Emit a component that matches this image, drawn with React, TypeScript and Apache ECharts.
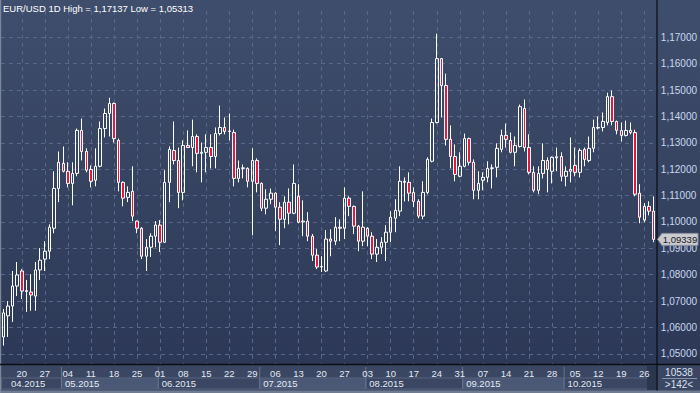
import React, { useEffect, useRef } from "react";
import * as echarts from "echarts";

const dates = [
  "2015-04-14", "2015-04-15", "2015-04-16", "2015-04-17",
  "2015-04-20", "2015-04-21", "2015-04-22", "2015-04-23", "2015-04-24",
  "2015-04-27", "2015-04-28", "2015-04-29", "2015-04-30", "2015-05-01",
  "2015-05-04", "2015-05-05", "2015-05-06", "2015-05-07", "2015-05-08",
  "2015-05-11", "2015-05-12", "2015-05-13", "2015-05-14", "2015-05-15",
  "2015-05-18", "2015-05-19", "2015-05-20", "2015-05-21", "2015-05-22",
  "2015-05-25", "2015-05-26", "2015-05-27", "2015-05-28", "2015-05-29",
  "2015-06-01", "2015-06-02", "2015-06-03", "2015-06-04", "2015-06-05",
  "2015-06-08", "2015-06-09", "2015-06-10", "2015-06-11", "2015-06-12",
  "2015-06-15", "2015-06-16", "2015-06-17", "2015-06-18", "2015-06-19",
  "2015-06-22", "2015-06-23", "2015-06-24", "2015-06-25", "2015-06-26",
  "2015-06-29", "2015-06-30", "2015-07-01", "2015-07-02", "2015-07-03",
  "2015-07-06", "2015-07-07", "2015-07-08", "2015-07-09", "2015-07-10",
  "2015-07-13", "2015-07-14", "2015-07-15", "2015-07-16", "2015-07-17",
  "2015-07-20", "2015-07-21", "2015-07-22", "2015-07-23", "2015-07-24",
  "2015-07-27", "2015-07-28", "2015-07-29", "2015-07-30", "2015-07-31",
  "2015-08-03", "2015-08-04", "2015-08-05", "2015-08-06", "2015-08-07",
  "2015-08-10", "2015-08-11", "2015-08-12", "2015-08-13", "2015-08-14",
  "2015-08-17", "2015-08-18", "2015-08-19", "2015-08-20", "2015-08-21",
  "2015-08-24", "2015-08-25", "2015-08-26", "2015-08-27", "2015-08-28",
  "2015-08-31", "2015-09-01", "2015-09-02", "2015-09-03", "2015-09-04",
  "2015-09-07", "2015-09-08", "2015-09-09", "2015-09-10", "2015-09-11",
  "2015-09-14", "2015-09-15", "2015-09-16", "2015-09-17", "2015-09-18",
  "2015-09-21", "2015-09-22", "2015-09-23", "2015-09-24", "2015-09-25",
  "2015-09-28", "2015-09-29", "2015-09-30", "2015-10-01", "2015-10-02",
  "2015-10-05", "2015-10-06", "2015-10-07", "2015-10-08", "2015-10-09",
  "2015-10-12", "2015-10-13", "2015-10-14", "2015-10-15", "2015-10-16",
  "2015-10-19", "2015-10-20", "2015-10-21", "2015-10-22", "2015-10-23",
  "2015-10-26", "2015-10-27", "2015-10-28",
];

const opens = [
  1.0564, 1.0644, 1.0681, 1.0757, 1.0814, 1.0740, 1.0734, 1.0719, 1.0818, 1.0859,
  1.0889, 1.0976, 1.1127, 1.1222, 1.1192, 1.1146, 1.1184, 1.1347, 1.1267, 1.1199,
  1.1158, 1.1211, 1.1354, 1.1411, 1.1449, 1.1309, 1.1150, 1.1093, 1.1116, 1.1003,
  1.0976, 1.0870, 1.0904, 1.0946, 1.0988, 1.0923, 1.1150, 1.1271, 1.1233, 1.1112,
  1.1290, 1.1282, 1.1324, 1.1260, 1.1264, 1.1282, 1.1248, 1.1335, 1.1358, 1.1343,
  1.1339, 1.1165, 1.1203, 1.1203, 1.1154, 1.1233, 1.1146, 1.1052, 1.1086, 1.1109,
  1.1056, 1.1010, 1.1075, 1.1033, 1.1097, 1.1000, 1.1003, 1.0946, 1.0874, 1.0829,
  1.0814, 1.0935, 1.0927, 1.0980, 1.0976, 1.1090, 1.1059, 1.0984, 1.0927, 1.0976,
  1.0946, 1.0878, 1.0904, 1.0923, 1.0961, 1.1014, 1.1041, 1.1154, 1.1150, 1.1112,
  1.1078, 1.1022, 1.1112, 1.1230, 1.1377, 1.1619, 1.1517, 1.1313, 1.1248, 1.1173,
  1.1211, 1.1316, 1.1226, 1.1120, 1.1158, 1.1169, 1.1203, 1.1207, 1.1275, 1.1328,
  1.1309, 1.1264, 1.1286, 1.1430, 1.1282, 1.1188, 1.1120, 1.1184, 1.1233, 1.1192,
  1.1243, 1.1248, 1.1173, 1.1192, 1.1214, 1.1188, 1.1275, 1.1233, 1.1279, 1.1358,
  1.1358, 1.1377, 1.1475, 1.1381, 1.1347, 1.1328, 1.1347, 1.1339, 1.1109, 1.1007,
  1.1059, 1.1041,
];

const closes = [
  1.0655, 1.0681, 1.0757, 1.0799, 1.0738, 1.0736, 1.0723, 1.0818, 1.0855, 1.0889,
  1.0980, 1.1127, 1.1226, 1.1192, 1.1146, 1.1184, 1.1347, 1.1267, 1.1196, 1.1154,
  1.1211, 1.1354, 1.1411, 1.1449, 1.1316, 1.1150, 1.1090, 1.1112, 1.1022, 1.0976,
  1.0870, 1.0904, 1.0946, 1.0988, 1.0923, 1.1150, 1.1275, 1.1233, 1.1112, 1.1290,
  1.1282, 1.1324, 1.1260, 1.1264, 1.1282, 1.1248, 1.1335, 1.1358, 1.1343, 1.1345,
  1.1165, 1.1203, 1.1205, 1.1154, 1.1233, 1.1146, 1.1052, 1.1086, 1.1109, 1.1056,
  1.1010, 1.1075, 1.1033, 1.1146, 1.0999, 1.1003, 1.0946, 1.0874, 1.0829, 1.0831,
  1.0935, 1.0927, 1.0980, 1.0976, 1.1090, 1.1059, 1.0984, 1.0927, 1.0980, 1.0946,
  1.0878, 1.0904, 1.0923, 1.0961, 1.1018, 1.1044, 1.1154, 1.1150, 1.1109, 1.1078,
  1.1022, 1.1112, 1.1237, 1.1377, 1.1619, 1.1517, 1.1313, 1.1248, 1.1180, 1.1211,
  1.1316, 1.1226, 1.1120, 1.1146, 1.1169, 1.1203, 1.1205, 1.1279, 1.1328, 1.1313,
  1.1264, 1.1290, 1.1437, 1.1282, 1.1188, 1.1120, 1.1184, 1.1233, 1.1199, 1.1245,
  1.1247, 1.1173, 1.1192, 1.1199, 1.1188, 1.1271, 1.1237, 1.1279, 1.1358, 1.1356,
  1.1381, 1.1475, 1.1381, 1.1347, 1.1328, 1.1347, 1.1339, 1.1105, 1.1018, 1.1059,
  1.1041, 1.09339,
];

const lows = [
  1.05313, 1.0564, 1.0621, 1.0719, 1.0708, 1.0659, 1.0663, 1.0663, 1.0780, 1.0814,
  1.0859, 1.0957, 1.1075, 1.1188, 1.1131, 1.1063, 1.1173, 1.1233, 1.1188, 1.1131,
  1.1135, 1.1207, 1.1320, 1.1324, 1.1301, 1.1116, 1.1059, 1.1075, 1.1003, 1.0957,
  1.0859, 1.0814, 1.0867, 1.0904, 1.0886, 1.0920, 1.1075, 1.1218, 1.1052, 1.1082,
  1.1280, 1.1211, 1.1188, 1.1150, 1.1188, 1.1203, 1.1203, 1.1328, 1.1332, 1.1309,
  1.1135, 1.1150, 1.1165, 1.1131, 1.0950, 1.1112, 1.1041, 1.1029, 1.1067, 1.0965,
  1.0912, 1.0976, 1.0991, 1.1029, 1.0995, 1.0946, 1.0927, 1.0852, 1.0821, 1.0810,
  1.0810, 1.0870, 1.0912, 1.0927, 1.0935, 1.1022, 1.0954, 1.0889, 1.0908, 1.0908,
  1.0859, 1.0848, 1.0878, 1.0852, 1.0923, 1.0961, 1.1022, 1.1078, 1.1078, 1.1056,
  1.1014, 1.1010, 1.1105, 1.1226, 1.1373, 1.1396, 1.1290, 1.1203, 1.1154, 1.1169,
  1.1207, 1.1214, 1.1086, 1.1086, 1.1120, 1.1150, 1.1127, 1.1169, 1.1264, 1.1282,
  1.1260, 1.1211, 1.1282, 1.1267, 1.1180, 1.1112, 1.1105, 1.1165, 1.1112, 1.1146,
  1.1192, 1.1154, 1.1135, 1.1150, 1.1173, 1.1169, 1.1211, 1.1226, 1.1264, 1.1350,
  1.1343, 1.1366, 1.1366, 1.1332, 1.1305, 1.1324, 1.1332, 1.1097, 1.0995, 1.0999,
  1.1025, 1.0923,
];

const highs = [
  1.0670, 1.0700, 1.0814, 1.0848, 1.0821, 1.0780, 1.0802, 1.0848, 1.0901, 1.0927,
  1.0991, 1.1192, 1.1267, 1.1286, 1.1226, 1.1226, 1.1354, 1.1392, 1.1279, 1.1214,
  1.1279, 1.1381, 1.1430, 1.1471, 1.1453, 1.1316, 1.1154, 1.1135, 1.1211, 1.1005,
  1.0980, 1.0935, 1.0957, 1.1003, 1.1007, 1.1196, 1.1286, 1.1381, 1.1282, 1.1309,
  1.1347, 1.1388, 1.1332, 1.1301, 1.1332, 1.1332, 1.1358, 1.1441, 1.1396, 1.1411,
  1.1350, 1.1233, 1.1218, 1.1207, 1.1279, 1.1241, 1.1150, 1.1124, 1.1127, 1.1112,
  1.1075, 1.1097, 1.1127, 1.1218, 1.1143, 1.1082, 1.1037, 1.0954, 1.0897, 1.0870,
  1.0969, 1.0972, 1.1018, 1.1010, 1.1131, 1.1097, 1.1062, 1.0988, 1.1116, 1.0980,
  1.0961, 1.0935, 1.0942, 1.0988, 1.1041, 1.1086, 1.1211, 1.1169, 1.1188, 1.1131,
  1.1086, 1.1154, 1.1245, 1.1392, 1.17137, 1.1620, 1.1562, 1.1366, 1.1294, 1.1264,
  1.1335, 1.1320, 1.1237, 1.1192, 1.1188, 1.1230, 1.1218, 1.1298, 1.1350, 1.1373,
  1.1339, 1.1324, 1.1445, 1.1464, 1.1332, 1.1211, 1.1211, 1.1298, 1.1245, 1.1248,
  1.1282, 1.1264, 1.1211, 1.1320, 1.1282, 1.1279, 1.1282, 1.1324, 1.1388, 1.1400,
  1.1415, 1.1490, 1.1498, 1.1384, 1.1377, 1.1384, 1.1377, 1.1350, 1.1143, 1.1071,
  1.1078, 1.1097,
];

const titleText = "EUR/USD 1D High = 1,17137 Low = 1,05313";
const lastPrice = 1.09339;
const totalBars = "10538";
const visibleBars = ">142<";
const priceMin = 1.04;
const priceMax = 1.18;
const priceStep = 0.01;

const FONT = "'Liberation Sans', Arial, sans-serif";
const STRIP_TOP = 364.5;
const PANEL_X = 656.5;

export default function App() {
  const ref = useRef<HTMLDivElement>(null);

  useEffect(() => {
    const chart = echarts.init(ref.current!, null, { renderer: "svg" });
    const data = dates.map((_, i) => [opens[i], closes[i], lows[i], highs[i]]);
    const isMonday = (i: number) =>
      new Date(dates[i] + "T00:00:00Z").getUTCDay() === 1;
    const fmtPrice = (v: number) => v.toFixed(5).replace(".", ",");

    chart.setOption({
      animation: false,
      grid: { left: 1, right: 44, top: 10.9, bottom: 12.8 },
      xAxis: [
        {
          type: "category",
          data: dates,
          boundaryGap: true,
          axisLine: { show: false },
          axisTick: { show: false },
          axisLabel: { show: false },
          splitLine: {
            show: true,
            interval: (i: number) => isMonday(i),
            alignWithLabel: true,
            lineStyle: { color: "#58678c", width: 1, type: [4, 4] },
          },
        },
        {
          type: "category",
          data: dates,
          boundaryGap: true,
          position: "bottom",
          offset: -15.8,
          z: 10,
          axisLine: { show: false },
          axisTick: { show: false },
          splitLine: { show: false },
          axisLabel: {
            interval: (i: number) => isMonday(i),
            formatter: (v: string) => v.slice(8),
            color: "#e2e9f5",
            fontSize: 9.5,
            fontFamily: FONT,
            margin: 4,
          },
        },
      ],
      yAxis: {
        type: "value",
        position: "right",
        min: priceMin,
        max: priceMax,
        interval: priceStep,
        axisLine: { show: false },
        axisTick: { show: false },
        axisLabel: {
          formatter: (v: number) => fmtPrice(v),
          color: "#c9d8f0",
          fontSize: 10,
          fontFamily: FONT,
          margin: 5,
          align: "left",
          showMinLabel: false,
          showMaxLabel: false,
        },
        splitLine: {
          show: true,
          showMinLine: false,
          showMaxLine: false,
          lineStyle: { color: "#58678c", width: 1, type: [4, 4] },
        },
      },
      series: [
        {
          type: "candlestick",
          xAxisIndex: 0,
          data,
          barWidth: 3,
          itemStyle: {
            color: "rgba(0,0,0,0)",
            color0: "#e8163c",
            borderColor: "#ffffff",
            borderColor0: "#ffffff",
            borderWidth: 1,
          },
        },
      ],
    });

    // Derived positions through the chart's own scales
    const cx = (i: number) => chart.convertToPixel({ xAxisIndex: 0 }, dates[i]) as number;
    const bw = cx(1) - cx(0);
    const monthStarts: { idx: number; label: string }[] = [];
    dates.forEach((d, i) => {
      const m = d.slice(0, 7);
      if (i === 0 || m !== dates[i - 1].slice(0, 7)) {
        monthStarts.push({ idx: i, label: d.slice(5, 7) + "." + d.slice(0, 4) });
      }
    });
    const handleX = 647;
    const graphics: any[] = [];
    graphics.push({
      type: "rect",
      z: 5,
      silent: true,
      shape: { x: 0, y: STRIP_TOP, width: 700, height: 393 - STRIP_TOP },
      style: { fill: "#3a4662" },
    });
    monthStarts.forEach((m, k) => {
      const left = Math.max(1, cx(m.idx) - bw / 2);
      const right =
        k + 1 < monthStarts.length ? cx(monthStarts[k + 1].idx) - bw / 2 : handleX;
      const light = k % 2 === 1;
      graphics.push({
        type: "rect",
        z: 6,
        silent: true,
        shape: { x: left + 0.5, y: 378, width: right - left, height: 11 },
        style: { fill: light ? "#4b5875" : "#3a4662", stroke: "#56637e", lineWidth: 1 },
      });
      if (k > 0) {
        graphics.push({
          type: "line",
          z: 7,
          silent: true,
          shape: { x1: left + 0.5, y1: 367, x2: left + 0.5, y2: 389 },
          style: { stroke: "#66738c", lineWidth: 1 },
        });
      }
      graphics.push({
        type: "text",
        z: 8,
        silent: true,
        x: k === 0 ? left + 10 : left + 4,
        y: 383.8,
        style: {
          text: m.label,
          fill: "#e2e9f5",
          font: `9.5px ${FONT}`,
          textVerticalAlign: "middle",
        },
      });
    });
    // scroll handle
    graphics.push({
      type: "rect",
      z: 7,
      silent: true,
      shape: { x: handleX, y: 366, width: PANEL_X - handleX, height: 24 },
      style: { fill: "#2b364f" },
    });
    // bottom + left frame
    graphics.push({
      type: "rect",
      z: 9,
      silent: true,
      shape: { x: 0, y: 390.5, width: 700, height: 2.5 },
      style: { fill: "#6f7b90" },
    });
    graphics.push({
      type: "rect",
      z: 9,
      silent: true,
      shape: { x: 0, y: 0, width: 1.2, height: 393 },
      style: { fill: "#7b8699" },
    });
    // separators
    graphics.push({
      type: "line",
      z: 9,
      silent: true,
      shape: { x1: 0, y1: STRIP_TOP, x2: 700, y2: STRIP_TOP },
      style: { stroke: "#0a0d14", lineWidth: 1.5 },
    });
    graphics.push({
      type: "line",
      z: 9,
      silent: true,
      shape: { x1: PANEL_X + 0.5, y1: 0, x2: PANEL_X + 0.5, y2: 390.5 },
      style: { stroke: "#0a0d14", lineWidth: 1.2 },
    });
    // bottom-right counters
    graphics.push({
      type: "text",
      z: 10,
      silent: true,
      x: 679,
      y: 372,
      style: { text: totalBars, fill: "#d8e1f0", font: `10px ${FONT}`, textAlign: "center", textVerticalAlign: "middle" },
    });
    graphics.push({
      type: "line",
      z: 10,
      silent: true,
      shape: { x1: 662, y1: 378.5, x2: 697, y2: 378.5 },
      style: { stroke: "#8793a8", lineWidth: 1 },
    });
    graphics.push({
      type: "text",
      z: 10,
      silent: true,
      x: 679,
      y: 384.5,
      style: { text: visibleBars, fill: "#d8e1f0", font: `10px ${FONT}`, textAlign: "center", textVerticalAlign: "middle" },
    });
    // last price tag
    const py = chart.convertToPixel({ yAxisIndex: 0 }, lastPrice) as number;
    graphics.push({
      type: "polygon",
      z: 12,
      silent: true,
      shape: {
        points: [
          [657.5, py],
          [662, py - 6],
          [698, py - 6],
          [698, py + 6],
          [662, py + 6],
        ],
      },
      style: { fill: "#c9cbd0", stroke: "#8c919b", lineWidth: 1 },
    });
    graphics.push({
      type: "text",
      z: 13,
      silent: true,
      x: 680,
      y: py,
      style: { text: fmtPrice(lastPrice), fill: "#1a1a1a", font: `9.5px ${FONT}`, textAlign: "center", textVerticalAlign: "middle" },
    });
    // title
    graphics.push({
      type: "text",
      z: 20,
      silent: true,
      x: 3,
      y: 8,
      style: { text: titleText, fill: "#ffffff", font: `9.5px ${FONT}`, textVerticalAlign: "middle" },
    });

    chart.setOption({ graphic: graphics });

    return () => chart.dispose();
  }, []);

  return (
    <div
      ref={ref}
      style={{
        position: "fixed",
        left: 0,
        top: 0,
        width: 700,
        height: 393,
        background:
          "linear-gradient(to bottom, #3f4e6c 0px, #2c3856 364px, #3a4662 364px, #3a4662 393px)",
      }}
    />
  );
}
